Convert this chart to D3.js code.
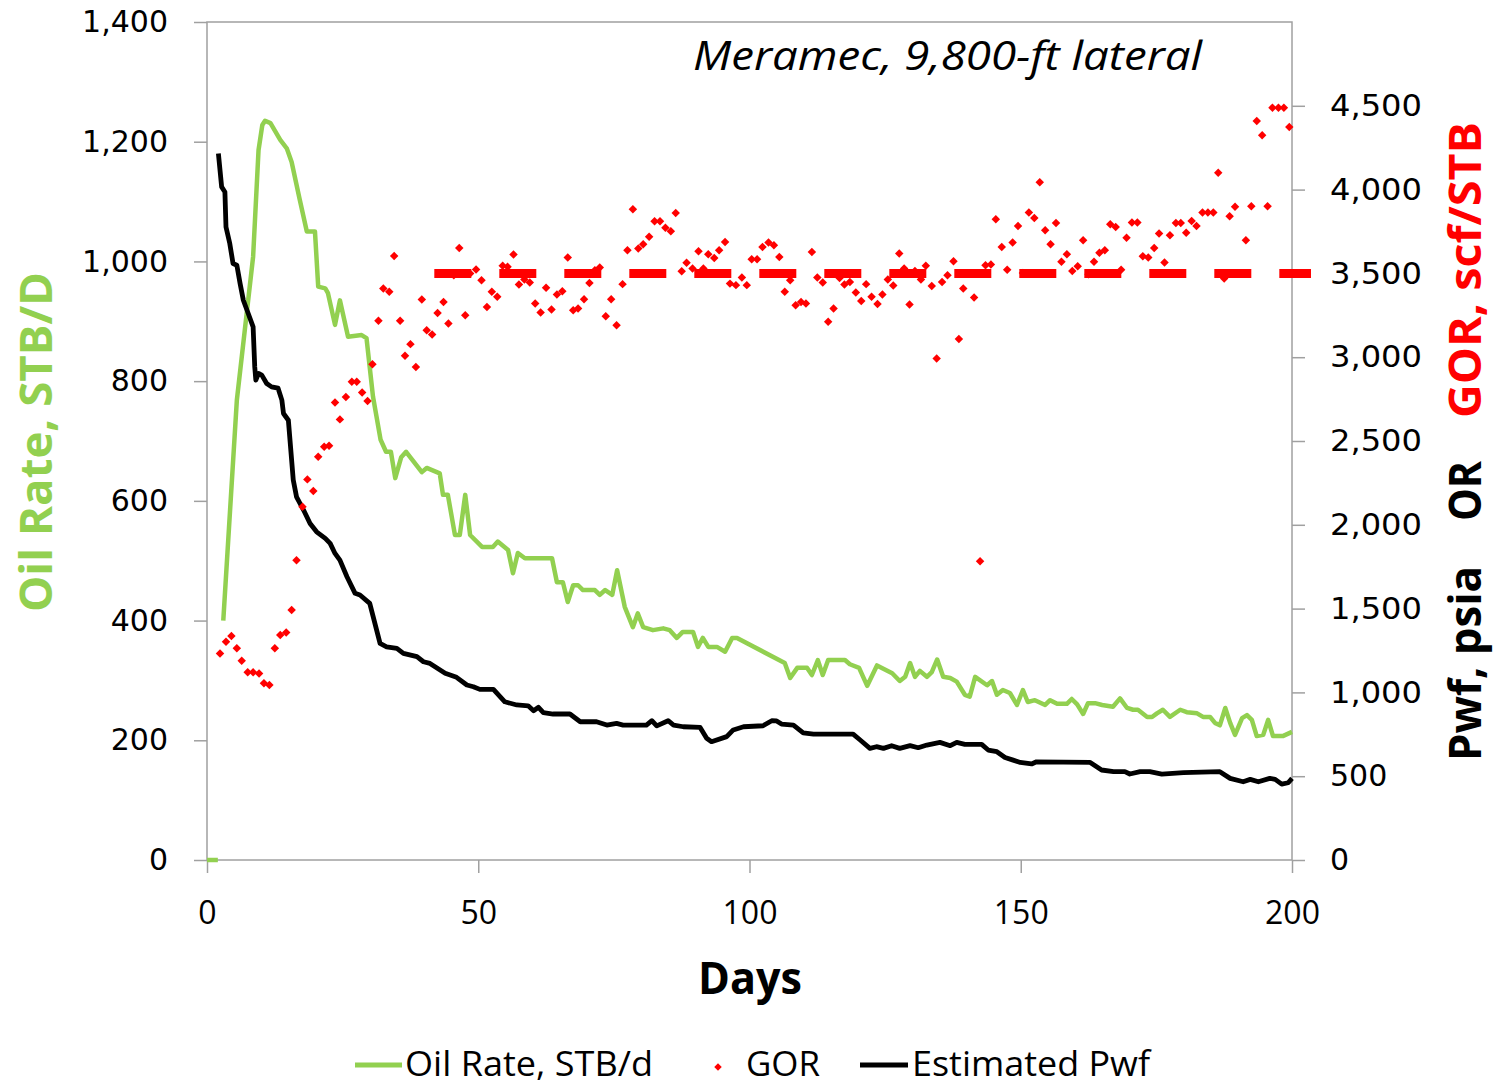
<!DOCTYPE html>
<html><head><meta charset="utf-8">
<script src="https://cdn.jsdelivr.net/npm/d3@7"></script>
<style>body{margin:0;background:#fff}</style>
</head><body>
<svg id="c" width="1509" height="1086"></svg>
<script>
// ---- data ----
const xTicks = [0, 50, 100, 150, 200];
const leftTicks = [0, 200, 400, 600, 800, 1000, 1200, 1400];
const rightTicks = [0, 500, 1000, 1500, 2000, 2500, 3000, 3500, 4000, 4500];

const oilDays = [0,1,2,2.5,3,5.5,8.5,9.5,10.2,10.7,11.7,13.5,14.7,15.6,17.1,18.4,19.9,20.5,21.8,22.3,23.6,24.5,26.0,28.5,29.4,30.6,32.0,33.0,33.9,34.7,35.8,36.7,39.6,40.5,42.9,43.5,44.4,45.7,46.6,47.6,48.5,50.7,52.7,53.6,55.5,56.4,57.3,58.6,63.6,64.5,65.6,66.5,67.5,68.4,69.3,71.5,72.4,73.4,74.7,75.6,77.0,78.5,79.4,80.4,82.2,84.1,85.3,86.6,87.7,89.6,90.5,91.4,92.4,94.0,95.5,96.8,97.7,106.5,107.5,108.8,110.6,111.5,112.6,113.5,114.5,117.6,118.5,120.2,121.7,123.5,126.3,127.7,128.7,129.6,130.5,131.4,132.7,133.6,134.6,135.7,137.0,138.2,139.7,140.6,141.6,143.8,144.7,145.6,146.7,148.0,149.3,150.4,151.3,152.6,154.5,155.4,156.7,158.5,159.4,160.4,161.5,162.4,163.7,165.0,167.0,168.3,169.6,170.7,171.6,173.3,174.2,175.1,176.2,177.5,179.4,180.6,182.5,183.6,184.9,185.8,186.7,187.7,188.6,189.5,190.8,191.7,192.6,193.5,194.7,195.6,196.5,198.3,200];
const oilRate = [0,0,0,null,400,768,1008,1186,1228,1235,1231,1203,1189,1166,1103,1050,1050,958,955,947,894,935,874,877,872,774,702,682,682,638,673,682,648,655,646,610,610,543,543,610,543,523,523,532,518,479,513,504,504,464,464,431,459,459,451,451,443,451,443,484,423,389,412,389,384,387,384,371,381,381,356,371,356,356,348,371,371,329,304,321,321,309,334,309,334,334,327,321,291,325,312,299,306,329,306,316,306,314,335,306,304,298,276,273,306,292,299,276,284,279,259,284,264,267,259,267,261,261,269,260,244,262,262,259,256,270,254,251,251,239,239,245,251,239,251,247,245,239,239,229,225,254,229,209,237,242,234,207,209,234,207,207,214];

const pwfDays = [2.1,2.7,3.3,3.5,4.2,4.8,5.5,6.1,6.7,7.6,8.5,8.8,9.0,9.5,10.1,11.0,11.9,13.1,13.8,14.1,15.0,15.9,16.5,17.8,19.0,20.2,21.8,22.7,23.6,24.5,25.8,27.3,28.2,30.0,31.9,33.1,35.0,36.2,38.7,39.9,41.1,43.9,46.0,47.9,49.1,50.3,52.8,54.9,57.1,59.2,60.2,61.1,62.0,63.8,66.9,68.8,71.8,73.7,75.5,76.7,81.0,82.0,82.9,85.0,86.0,87.8,90.9,92.1,93.0,95.8,97.0,98.9,102.5,104.1,105.0,105.9,108.1,109.9,111.8,119.1,120.4,122.2,123.4,124.7,126.2,127.7,129.6,131.1,132.7,135.1,137.0,138.2,139.7,142.8,144.0,145.6,147.1,148.6,149.9,152.0,152.9,162.8,164.9,167.1,169.2,170.1,172.0,173.8,176.0,180.0,186.7,188.6,191.0,192.3,193.8,195.9,196.9,198.1,199.3,200];
const pwfValues = [4215,4016,3986,3777,3678,3559,3549,3440,3340,3261,3181,2942,2863,2903,2893,2843,2823,2815,2744,2664,2624,2267,2167,2088,2008,1958,1919,1889,1829,1789,1690,1591,1581,1531,1292,1272,1263,1233,1213,1183,1173,1114,1090,1044,1034,1018,1018,944,925,920,891,911,879,871,871,825,825,805,815,805,805,831,800,831,805,795,791,726,706,736,776,795,801,831,830,811,805,759,751,751,716,666,676,666,682,666,682,670,686,702,682,702,690,690,656,646,612,596,582,573,586,582,537,527,527,513,527,527,513,521,527,487,467,481,467,487,481,453,461,487];

const gorDays = [2.4,3.5,4.5,5.5,6.4,7.5,8.5,9.6,10.5,11.5,12.5,13.5,14.6,15.6,16.5,17.6,18.5,19.6,20.5,21.6,22.5,23.6,24.5,25.6,26.7,27.6,28.6,29.6,30.5,31.6,32.5,33.6,34.5,35.6,36.5,37.5,38.5,39.6,40.5,41.5,42.5,43.6,44.5,45.5,46.5,47.6,48.5,49.6,50.6,51.6,52.5,53.5,54.5,55.4,56.5,57.5,58.5,59.5,60.5,61.5,62.5,63.5,64.5,65.5,66.5,67.5,68.4,69.5,70.5,71.5,72.4,73.5,74.5,75.5,76.6,77.5,78.5,79.5,80.4,81.5,82.5,83.5,84.5,85.5,86.4,87.5,88.4,89.5,90.6,91.5,92.4,93.5,94.4,95.5,96.4,97.5,98.6,99.5,100.4,101.4,102.4,103.5,104.5,105.5,106.5,107.5,108.5,109.5,110.4,111.5,112.5,113.5,114.5,115.5,116.6,117.5,118.5,119.6,120.6,121.5,122.5,123.6,124.5,125.5,126.5,127.6,128.5,129.5,130.5,131.6,132.5,133.6,134.5,135.5,136.5,137.6,138.6,139.4,141.4,142.5,143.5,144.5,145.4,146.5,147.5,148.5,149.5,150.4,151.5,152.5,153.5,154.5,155.5,156.5,157.5,158.5,159.5,160.5,161.5,162.5,163.5,164.5,165.5,166.5,167.5,168.5,169.5,170.5,171.5,172.5,173.5,174.6,175.5,176.5,177.5,178.6,179.5,180.5,181.5,182.4,183.5,184.5,185.5,186.4,187.5,188.5,189.5,190.5,191.5,192.5,193.5,194.5,195.5,196.4,197.5,198.5,199.5];
const gorValues = [1232,1302,1336,1263,1189,1120,1120,1113,1055,1044,1263,1342,1358,1491,1789,2107,2271,2201,2406,2465,2471,2730,2629,2763,2853,2853,2789,2738,2958,3217,3410,3390,3604,3217,3008,3078,2942,3344,3161,3136,3264,3330,3201,3489,3652,3251,3499,3523,3459,3300,3390,3360,3545,3539,3613,3434,3463,3446,3320,3267,3414,3285,3374,3394,3595,3280,3290,3346,3443,3519,3535,3245,3346,3191,3436,3638,3883,3648,3674,3718,3811,3811,3772,3752,3861,3513,3563,3529,3632,3529,3614,3592,3638,3688,3439,3430,3475,3430,3585,3585,3658,3684,3668,3598,3390,3459,3310,3330,3320,3628,3475,3446,3211,3290,3473,3434,3449,3386,3336,3436,3360,3318,3374,3463,3428,3619,3529,3314,3515,3463,3545,3425,2992,3449,3489,3573,3108,3410,3356,1783,3549,3553,3823,3658,3522,3684,3783,3503,3863,3831,4044,3758,3674,3801,3569,3614,3515,3543,3698,3495,3569,3623,3638,3793,3777,3522,3713,3803,3803,3603,3595,3652,3738,3565,3728,3801,3801,3743,3813,3783,3863,3863,3863,4100,3469,3841,3897,3499,3698,3901,4410,4324,3901,4489,4489,4489,4374];

const gorRefDays = [41.9, 203.5];
const gorRefValues = [3500, 3500];

const titleText = "Meramec, 9,800-ft lateral";
const legendLabels = ["Oil Rate, STB/d", "GOR", "Estimated Pwf"];

// ---- chart ----
const GREEN = "#92D050", RED = "#FF0000", GRAY = "#a0a0a0";
const svg = d3.select("#c");
const x = d3.scaleLinear().domain([0, 200]).range([207, 1292]);
const yL = d3.scaleLinear().domain([0, 1400]).range([860, 22]);
const yR = d3.scaleLinear().domain([0, 5000]).range([860, 22]);

// frame
svg.append("rect").attr("x", 207).attr("y", 22).attr("width", 1085).attr("height", 838)
  .attr("fill", "none").attr("stroke", GRAY).attr("stroke-width", 1.5);

const fmt = d3.format(",");
const gL = svg.append("g").attr("transform", "translate(207,0)")
  .call(d3.axisLeft(yL).tickValues(leftTicks).tickSize(13).tickPadding(26).tickFormat(fmt));
const gR = svg.append("g").attr("transform", "translate(1292,0)")
  .call(d3.axisRight(yR).tickValues(rightTicks).tickSize(13).tickPadding(25).tickFormat(fmt));
const gB = svg.append("g").attr("transform", "translate(0,860)")
  .call(d3.axisBottom(x).tickValues(xTicks).tickSize(13).tickPadding(28));
[gL, gR, gB].forEach(g => {
  g.select(".domain").remove();
  g.selectAll(".tick line").attr("stroke", GRAY).attr("stroke-width", 1.5);
});
[gL, gR].forEach(g => g.selectAll(".tick text").attr("font-family", "DejaVu Sans").attr("font-size", 30).attr("fill", "#000"));
gR.selectAll(".tick text").attr("textLength", d => d >= 1000 ? 92 : null).attr("lengthAdjust", "spacingAndGlyphs");
gB.selectAll(".tick text").attr("font-family", "Open Sans").attr("font-size", 32).attr("fill", "#000");

// oil
const oilData = oilDays.map((d, i) => ({d, v: oilRate[i]}));
svg.append("path").datum(oilData)
  .attr("d", d3.line().defined(p => p.v != null).x(p => x(p.d)).y(p => yL(p.v)))
  .attr("fill", "none").attr("stroke", GREEN).attr("stroke-width", 4.5).attr("stroke-linejoin", "round");

// pwf
const pwfData = pwfDays.map((d, i) => ({d, v: pwfValues[i]}));
svg.append("path").datum(pwfData)
  .attr("d", d3.line().x(p => x(p.d)).y(p => yR(p.v)))
  .attr("fill", "none").attr("stroke", "#000").attr("stroke-width", 4.8).attr("stroke-linejoin", "round");

// gor reference dashed line
const refData = gorRefDays.map((d, i) => ({d, v: gorRefValues[i]}));
svg.append("path").datum(refData)
  .attr("d", d3.line().x(p => x(p.d)).y(p => yR(p.v)))
  .attr("fill", "none").attr("stroke", RED).attr("stroke-width", 9).attr("stroke-dasharray", "37,28");

// gor points
const diamond = d3.symbol().type(d3.symbolSquare).size(36);
svg.append("g").selectAll("path").data(gorDays.map((d, i) => ({d, v: gorValues[i]})))
  .join("path").attr("d", diamond)
  .attr("transform", p => `translate(${x(p.d)},${yR(p.v)}) rotate(45)`)
  .attr("fill", RED);

// title
svg.append("text").attr("x", 693).attr("y", 70).text(titleText)
  .attr("font-family", "Open Sans").attr("font-style", "italic").attr("font-size", 40)
  .attr("textLength", 509).attr("lengthAdjust", "spacingAndGlyphs");

// axis titles
svg.append("text").attr("x", 698).attr("y", 994).text("Days")
  .attr("font-family", "Open Sans").attr("font-weight", "bold").attr("font-size", 44)
  .attr("textLength", 104).attr("lengthAdjust", "spacingAndGlyphs");

svg.append("text").attr("transform", "translate(52,612) rotate(-90)").text("Oil Rate, STB/D")
  .attr("font-family", "Open Sans").attr("font-weight", "bold").attr("font-size", 44).attr("fill", GREEN)
  .attr("textLength", 340).attr("lengthAdjust", "spacingAndGlyphs");

const rTitle = [
  {t: "Pwf, psia", y0: 761, len: 195, c: "#000"},
  {t: "OR", y0: 521, len: 60, c: "#000"},
  {t: "GOR, scf/STB", y0: 418, len: 296, c: RED}
];
rTitle.forEach(s => {
  svg.append("text").attr("transform", `translate(1481,${s.y0}) rotate(-90)`).text(s.t)
    .attr("font-family", "Open Sans").attr("font-weight", "bold").attr("font-size", 44).attr("fill", s.c)
    .attr("textLength", s.len).attr("lengthAdjust", "spacingAndGlyphs");
});

// legend
const lg = svg.append("g");
const legY = 1065, legBase = 1076, legSize = 34;
lg.append("line").attr("x1", 355).attr("x2", 402).attr("y1", legY).attr("y2", legY)
  .attr("stroke", GREEN).attr("stroke-width", 5);
lg.append("text").attr("x", 405).attr("y", legBase).text(legendLabels[0])
  .attr("font-family", "Open Sans").attr("font-size", legSize)
  .attr("textLength", 248).attr("lengthAdjust", "spacingAndGlyphs");
lg.append("path").attr("d", d3.symbol().type(d3.symbolSquare).size(28))
  .attr("transform", `translate(718,${legY + 2}) rotate(45)`).attr("fill", RED);
lg.append("text").attr("x", 746).attr("y", legBase).text(legendLabels[1])
  .attr("font-family", "Open Sans").attr("font-size", legSize)
  .attr("textLength", 74).attr("lengthAdjust", "spacingAndGlyphs");
lg.append("line").attr("x1", 860).attr("x2", 908).attr("y1", legY).attr("y2", legY)
  .attr("stroke", "#000").attr("stroke-width", 5);
lg.append("text").attr("x", 912).attr("y", legBase).text(legendLabels[2])
  .attr("font-family", "Open Sans").attr("font-size", legSize)
  .attr("textLength", 238).attr("lengthAdjust", "spacingAndGlyphs");
</script>
</body></html>
